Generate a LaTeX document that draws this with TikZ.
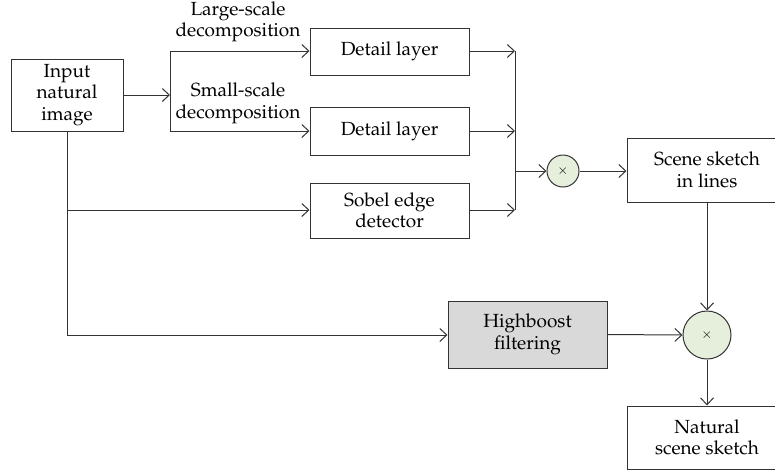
\documentclass[tikz,border=0pt]{standalone}
\usepackage[T1]{fontenc}
\usepackage{mathpazo}
\usetikzlibrary{arrows.meta}
\definecolor{ln}{HTML}{333333}
\definecolor{hbfill}{HTML}{D9D9D9}
\definecolor{cfill}{HTML}{E6EEDC}
\begin{document}
\begin{tikzpicture}[x=1pt,y=-1pt,
  font=\fontsize{19}{21.5}\selectfont,
  box/.style={draw=ln,line width=1pt,inner sep=0pt,align=center,text=black},
  mult/.style={draw=ln,line width=1pt,circle,fill=cfill,inner sep=0pt,font=\fontsize{13}{13}\selectfont},
  conn/.style={draw=ln,line width=1pt},
  arr/.style={conn,-{Straight Barb[length=7pt,width=13pt,line width=1pt]}},
  lbl/.style={align=center,inner sep=0pt}]
\useasboundingbox (0,0) rectangle (775,472);
\node[box,minimum width=112pt,minimum height=72pt] (inp) at (67,95) {Input\\natural\\image};
\node[box,minimum width=159pt,minimum height=47pt] (d1) at (389.5,51.5) {Detail layer};
\node[box,minimum width=159pt,minimum height=48pt] (d2) at (389.5,131) {Detail layer};
\node[box,minimum width=159pt,minimum height=55pt] (sob) at (389.5,210.5) {Sobel edge\\detector};
\node[box,minimum width=160pt,minimum height=64pt] (scene) at (707,170) {Scene sketch\\in lines};
\node[box,fill=hbfill,minimum width=159pt,minimum height=67pt] (hb) at (527.5,334.5) {Highboost\\filtering};
\node[box,minimum width=160pt,minimum height=63pt] (nat) at (707,437.5) {Natural\\scene sketch};
\node[mult,minimum size=32pt] (c1) at (563,171) {$\times$};
\node[mult,minimum size=48pt] (c2) at (707,335) {$\times$};
\coordinate (split) at (170,95);
\coordinate (sTop) at (170,51);
\coordinate (sBot) at (170,131);
\coordinate (mTop) at (515,51);
\coordinate (mMid) at (515,171);
\coordinate (mBot) at (515,210);
\coordinate (vSob) at (67,210);
\coordinate (vHb) at (67,335);
\node[lbl] (lLarge) at (238,22) {Large-scale\\decomposition};
\node[lbl] (lSmall) at (238,103.5) {Small-scale\\decomposition};
\draw[arr] (inp.east) -- (split);
\draw[conn] (sTop) -- (sBot);
\draw[arr] (sTop) -- (d1.west |- sTop);
\draw[arr] (sBot) -- (d2.west |- sBot);
\draw[conn] (inp.south) -- (vHb);
\draw[arr] (vSob) -- (sob.west |- vSob);
\draw[arr] (vHb) -- (hb.west |- vHb);
\draw[arr] (d1.east |- mTop) -- (mTop);
\draw[arr] (d2.east |- sBot) -- (mTop |- sBot);
\draw[arr] (sob.east |- mBot) -- (mBot);
\draw[conn] (mTop) -- (mBot);
\draw[arr] (mMid) -- (c1.west);
\draw[arr] (c1.east) -- (scene.west |- c1.east);
\draw[arr] (scene.south) -- (c2.north);
\draw[arr] (hb.east) -- (c2.west);
\draw[arr] (c2.south) -- (nat.north);
\end{tikzpicture}
\end{document}
